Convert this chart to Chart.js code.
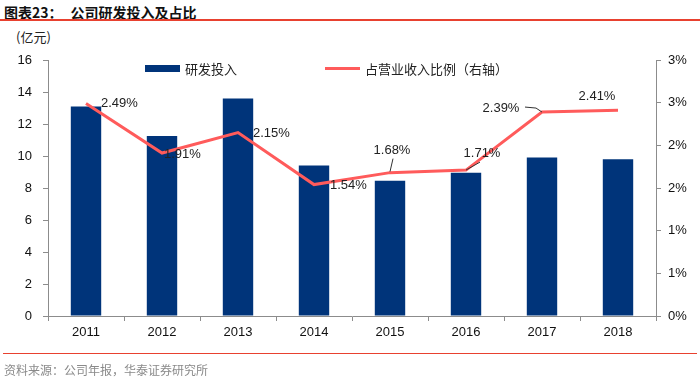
<!DOCTYPE html>
<html>
<head>
<meta charset="utf-8">
<script src="https://cdn.jsdelivr.net/npm/chart.js@4"></script>
<style>
  body { margin: 0; background: #fff; width: 700px; height: 384px; overflow: hidden; position: relative; font-family: "Noto Sans CJK SC", sans-serif; }
  #title { position: absolute; left: 4px; top: 2px; font-size: 14px; font-weight: bold; color: #111; }
  #title span { margin-left: 8px; }
  #topline { position: absolute; left: 0; top: 19px; width: 700px; height: 2px; background: #e8412f; }
  #unit { position: absolute; left: 16px; top: 27px; font-size: 13px; color: #222; }
  #legend { position: absolute; top: 59px; left: 145px; font-size: 13px; color: #222; }
  .lg { position: absolute; white-space: nowrap; }
  .sw { position: absolute; }
  #botline { position: absolute; left: 3px; top: 353px; width: 694px; height: 1px; background: #e8412f; }
  #source { position: absolute; left: 4px; top: 361px; font-size: 12px; color: #8a8a8a; }
  #wrap { position: absolute; left: 0; top: 0; width: 700px; height: 384px; }
</style>
</head>
<body>
<div id="title">图表23：<span>公司研发投入及占比</span></div>
<div id="topline"></div>
<div id="unit">(亿元)</div>
<div id="wrap"><canvas id="chart"></canvas></div>
<div id="legend">
  <div class="sw" style="left:0px;top:6px;width:35px;height:7px;background:#00347a;"></div>
  <div class="lg" style="left:40px;top:0px;">研发投入</div>
  <div class="sw" style="left:180px;top:8px;width:35px;height:3px;background:#ff5b5b;"></div>
  <div class="lg" style="left:220px;top:0px;">占营业收入比例（右轴）</div>
</div>
<div id="botline"></div>
<div id="source">资料来源：公司年报，华泰证券研究所</div>
<script>
var years = ['2011', '2012', '2013', '2014', '2015', '2016', '2017', '2018'];
var rdSpend = [13.1, 11.25, 13.6, 9.4, 8.45, 8.95, 9.9, 9.8];
var rdRatio = [2.49, 1.91, 2.15, 1.54, 1.68, 1.71, 2.39, 2.41];
var ratioLabels = ['2.49%', '1.91%', '2.15%', '1.54%', '1.68%', '1.71%', '2.39%', '2.41%'];

// label placement relative to each line point: dx, dy, align, leader line
var labelPlace = [
    { dx: 15, dy: 0, align: 'left' },
    { dx: 2, dy: 1, align: 'left' },
    { dx: 15, dy: 1, align: 'left' },
    { dx: 16, dy: 1, align: 'left' },
    { dx: 2, dy: -22, align: 'center', lead: [[0, -1], [3, -14]] },
    { dx: 16, dy: -17, align: 'center', lead: [[0, 0], [14, -8]] },
    { dx: -41, dy: -4, align: 'center', lead: [[0, 0], [-6, -4], [-17, -5]] },
    { dx: -21, dy: -14, align: 'center' }
];

var pointLabels = {
    id: 'pointLabels',
    afterDatasetsDraw: function(chart) {
        var ctx = chart.ctx;
        var meta = chart.getDatasetMeta(1);
        ctx.save();
        ctx.font = '13px "Liberation Sans", Arial, sans-serif';
        ctx.fillStyle = '#222';
        ctx.textBaseline = 'middle';
        meta.data.forEach(function(pt, i) {
            var p = labelPlace[i];
            if (p.lead) {
                ctx.strokeStyle = '#333';
                ctx.lineWidth = 1;
                ctx.beginPath();
                p.lead.forEach(function(q, k) {
                    if (k == 0) ctx.moveTo(pt.x + q[0], pt.y + q[1]);
                    else ctx.lineTo(pt.x + q[0], pt.y + q[1]);
                });
                ctx.stroke();
            }
            ctx.textAlign = p.align;
            ctx.fillText(ratioLabels[i], pt.x + p.dx, pt.y + p.dy);
        });
        ctx.restore();
    }
};

var axisColor = '#8c8c8c';
var tickFont = { family: '"Liberation Sans", Arial, sans-serif', size: 13 };

new Chart(document.getElementById('chart').getContext('2d'), {
    type: 'bar',
    data: {
        labels: years,
        datasets: [
            {
                label: '研发投入',
                data: rdSpend,
                backgroundColor: '#00347a',
                yAxisID: 'y',
                barPercentage: 0.4,
                categoryPercentage: 1,
                order: 2
            },
            {
                type: 'line',
                label: '占营业收入比例（右轴）',
                data: rdRatio,
                borderColor: '#ff5b5b',
                borderWidth: 3,
                pointRadius: 0,
                tension: 0,
                yAxisID: 'y1',
                order: 1
            }
        ]
    },
    options: {
        responsive: true,
        maintainAspectRatio: false,
        animation: false,
        layout: { padding: { top: 60, bottom: 38, left: 0, right: 0 } },
        plugins: {
            legend: { display: false },
            tooltip: { enabled: false }
        },
        scales: {
            x: {
                grid: { drawOnChartArea: false, tickLength: 5, color: axisColor, offset: true },
                border: { color: axisColor },
                ticks: { font: tickFont, color: '#111', padding: 4 },
                afterFit: function(s) { s.height = 30; }
            },
            y: {
                position: 'left',
                min: 0,
                max: 16,
                ticks: { stepSize: 2, font: tickFont, color: '#111', padding: 11 },
                grid: { drawOnChartArea: false, tickLength: 5, color: axisColor },
                border: { color: axisColor },
                afterFit: function(s) { s.width = 48; }
            },
            y1: {
                position: 'right',
                min: 0,
                max: 3,
                ticks: {
                    stepSize: 0.5,
                    font: tickFont,
                    color: '#111',
                    padding: 7,
                    callback: function(v) { return Math.round(v) + '%'; }
                },
                grid: { drawOnChartArea: false, tickLength: 5, color: axisColor },
                border: { color: axisColor },
                afterFit: function(s) { s.width = 44; }
            }
        }
    },
    plugins: [pointLabels]
});
</script>
</body>
</html>
